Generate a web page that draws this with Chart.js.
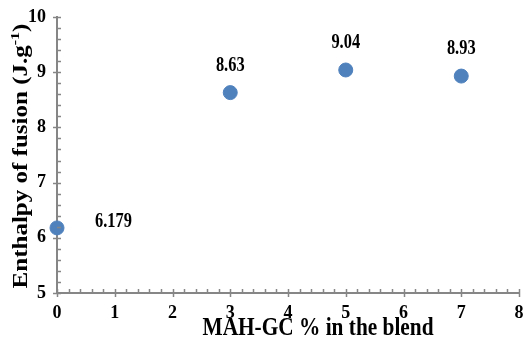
<!DOCTYPE html>
<html>
<head>
<meta charset="utf-8">
<script src="https://cdn.jsdelivr.net/npm/chart.js@4/dist/chart.umd.min.js"></script>
<style>
  html, body { margin: 0; padding: 0; background: #fff; }
  #wrap { width: 524px; height: 339px; }
</style>
</head>
<body>
<div id="wrap"><canvas id="myChart"></canvas></div>
<script>
// MAH-GC content in the blend (%) and measured enthalpy of fusion (J/g)
var blendPct = [0, 3, 5, 7];
var enthalpy = [6.179, 8.63, 9.04, 8.93];
var xTicks = [0, 1, 2, 3, 4, 5, 6, 7, 8];
var yTicks = [5, 6, 7, 8, 9, 10];

var axisColor = '#868686';
var serif = '"Liberation Serif", "Times New Roman", serif';
var squeeze = 0.82; // text is drawn a little condensed

var points = blendPct.map(function (x, i) { return { x: x, y: enthalpy[i] }; });

// major ticks cross the axis, minor ticks (every 0.2) point into the plot
var tickMarks = {
    id: 'tickMarks',
    afterDraw: function (chart) {
        var ctx = chart.ctx, a = chart.chartArea;
        var xs = chart.scales.x, ys = chart.scales.y;
        ctx.save();
        ctx.strokeStyle = axisColor;
        ctx.lineWidth = 1.5;
        ctx.beginPath();
        for (var i = 0; i <= 40; i++) {
            var v = xs.min + i * 0.2;
            var px = Math.round(xs.getPixelForValue(v)) + 0.5;
            var major = i % 5 === 0;
            ctx.moveTo(px, a.bottom + (major ? 4 : 0));
            ctx.lineTo(px, a.bottom - 4);
        }
        for (var j = 0; j <= 25; j++) {
            var w = ys.min + j * 0.2;
            var py = Math.round(ys.getPixelForValue(w)) + 0.5;
            var maj = j % 5 === 0;
            ctx.moveTo(a.left - (maj ? 4 : 0), py);
            ctx.lineTo(a.left + 4, py);
        }
        ctx.stroke();
        ctx.restore();
    }
};

// axis titles, drawn by hand so the unit can carry a real superscript
var axisTitles = {
    id: 'axisTitles',
    afterDraw: function (chart) {
        var ctx = chart.ctx, a = chart.chartArea;
        ctx.save();
        ctx.fillStyle = '#000';
        ctx.textBaseline = 'alphabetic';

        ctx.save();
        ctx.translate(a.left + 261, 335);
        ctx.scale(squeeze, 1);
        ctx.font = 'bold 26px ' + serif;
        ctx.textAlign = 'center';
        ctx.fillText('MAH-GC % in the blend', 0, 0);
        ctx.restore();

        var main = 'Enthalpy of fusion (J.g', sup = '-1', tail = ')';
        var big = 'bold 25px ' + serif, small = 'bold 16px ' + serif;
        ctx.font = big;
        var w1 = ctx.measureText(main).width, w3 = ctx.measureText(tail).width;
        ctx.font = small;
        var w2 = ctx.measureText(sup).width;
        var total = w1 + w2 + w3;
        ctx.translate(27, (a.top + a.bottom) / 2 + 1);
        ctx.scale(squeeze, 1);
        ctx.rotate(-Math.PI / 2);
        ctx.textAlign = 'left';
        var x0 = -total / 2;
        ctx.font = big;
        ctx.fillText(main, x0, 0);
        ctx.font = small;
        ctx.fillText(sup, x0 + w1, -10);
        ctx.font = big;
        ctx.fillText(tail, x0 + w1 + w2, 0);
        ctx.restore();
    }
};

// value labels: first one to the right of its point, the rest above
var valueLabels = {
    id: 'valueLabels',
    afterDatasetsDraw: function (chart) {
        var ctx = chart.ctx;
        var meta = chart.getDatasetMeta(0);
        ctx.save();
        ctx.font = 'bold 20px ' + serif;
        ctx.fillStyle = '#000';
        ctx.textBaseline = 'middle';
        meta.data.forEach(function (pt, i) {
            var txt = String(enthalpy[i]);
            ctx.save();
            if (i === 0) {
                ctx.translate(pt.x + 38, pt.y - 6);
                ctx.scale(squeeze, 1);
                ctx.textAlign = 'left';
            } else {
                ctx.translate(pt.x, pt.y - 27);
                ctx.scale(squeeze, 1);
                ctx.textAlign = 'center';
            }
            ctx.fillText(txt, 0, 0);
            ctx.restore();
        });
        ctx.restore();
    }
};

function noPad(s) {
    s.paddingLeft = 0; s.paddingRight = 0; s.paddingTop = 0; s.paddingBottom = 0;
}

new Chart(document.getElementById('myChart'), {
    type: 'scatter',
    data: {
        datasets: [{
            data: points,
            backgroundColor: '#4F81BD',
            borderColor: '#4F81BD',
            pointRadius: 7,
            pointHoverRadius: 7,
            clip: false
        }]
    },
    options: {
        responsive: true,
        maintainAspectRatio: false,
        animation: false,
        layout: { autoPadding: false, padding: { left: 0, right: 5, top: 17, bottom: 0 } },
        plugins: { legend: { display: false }, tooltip: { enabled: false } },
        scales: {
            x: {
                type: 'linear',
                min: 0,
                max: 8,
                afterFit: function (s) { s.height = 46; noPad(s); },
                afterBuildTicks: function (s) { s.ticks = xTicks.map(function (v) { return { value: v }; }); },
                border: { color: axisColor, width: 2 },
                grid: { drawOnChartArea: false, drawTicks: false },
                ticks: { color: '#000', padding: 10, maxRotation: 0, font: { family: serif, size: 18, weight: 'bold' } }
            },
            y: {
                type: 'linear',
                min: 5,
                max: 10,
                afterFit: function (s) { s.width = 57; noPad(s); },
                afterBuildTicks: function (s) { s.ticks = yTicks.map(function (v) { return { value: v }; }); },
                border: { color: axisColor, width: 2 },
                grid: { drawOnChartArea: false, drawTicks: false },
                ticks: { color: '#000', padding: 11, font: { family: serif, size: 18, weight: 'bold' } }
            }
        }
    },
    plugins: [tickMarks, axisTitles, valueLabels]
});
</script>
</body>
</html>
